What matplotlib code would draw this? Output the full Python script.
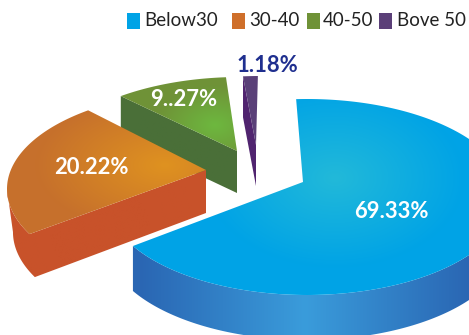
import numpy as np
import matplotlib
matplotlib.use("Agg")
import matplotlib.pyplot as plt
from matplotlib.colors import to_rgb
from matplotlib.patches import Polygon, Rectangle

# Data
categories = ["Below30", "30-40", "40-50", "Bove 50"]
shares = [69.33, 20.22, 9.27, 1.18]
share_labels = ["69.33%", "20.22%", "9..27%", "1.18%"]

# Look of each slice, drawn back to front
RX, RY = 201, 98
slices = [
    # index, ellipse centre, apex, start angle, stretch, depth, bottom scale, radial wall
    dict(i=3, c=(260, 174), apex=(256, 145), start=90.6, k=1.0, depth=41, s=1.0, wall=True),
    dict(i=2, c=(240, 175), apex=(237, 151), start=94.0, k=0.97, depth=42, s=1.0, wall=True),
    dict(i=1, c=(208, 189), apex=(206, 170), start=126.6, k=1.11, depth=43, s=0.97, wall=True),
    dict(i=0, c=(307, 197), apex=(303, 182), start=210.0, k=0.974, depth=45, s=1.0, wall=False),
]
legend_colors = ["#00a3e6", "#cf6f2a", "#6f9237", "#5b3f78"]
top_grad = {
    0: ("#22b9d9", "#00a3e6", (335, 178), 130, 90),
    1: ("#df9220", "#c6702c", (165, 165), 130, 70),
    2: ("#6db83f", "#6f9237", (215, 125), 60, 40),
    3: ("#5a4078", "#5a4078", (250, 100), 50, 50),
}
side_grad = {
    0: ("#3a9cdb", "#2a66b3", (305, 300), 165, 1e6),
    1: ("#c8522a", "#c8522a", (100, 230), 100, 100),
    2: ("#4a6f38", "#4a6f38", (180, 150), 100, 100),
    3: ("#50246f", "#50246f", (250, 130), 50, 50),
}
label_pos = [(391, 212), (91, 167), (184, 100), (267, 65)]
label_color = ["white", "white", "white", "#1f2f8f"]
legend_x = [127, 232, 307, 379]
legend_text_x = [144, 249, 323, 397]

W, H = 469, 335
plt.rcParams["font.family"] = ["Lato", "DejaVu Sans"]
fig = plt.figure(figsize=(W / 100, H / 100), dpi=100)
ax = fig.add_axes([0, 0, 1, 1])
ax.set_xlim(0, W)
ax.set_ylim(H, 0)
ax.axis("off")

yy, xx = np.mgrid[0:H, 0:W] + 0.5


def gradient_fill(pts, grad):
    inner, outer, centre, rx, ry = grad
    d = np.sqrt(((xx - centre[0]) / rx) ** 2 + ((yy - centre[1]) / ry) ** 2)
    d = np.clip(d, 0, 1)[..., None]
    img = np.array(to_rgb(inner)) * (1 - d) + np.array(to_rgb(outer)) * d
    im = ax.imshow(img, extent=(0, W, H, 0), aspect="auto", interpolation="bilinear")
    patch = Polygon(pts, closed=True, transform=ax.transData, fc="none", ec="none")
    ax.add_patch(patch)
    im.set_clip_path(patch)


for sl in slices:
    sweep = shares[sl["i"]] * 3.6 * sl["k"]
    t = np.radians(np.linspace(sl["start"], sl["start"] + sweep, 240))
    arc = np.column_stack([sl["c"][0] + RX * np.cos(t), sl["c"][1] - RY * np.sin(t)])
    apex = np.array(sl["apex"], dtype=float)

    # Lower rim, shrunk slightly towards the apex
    low = arc.copy()
    low[:, 0] = apex[0] + (low[:, 0] - apex[0]) * sl["s"]
    low[:, 1] += sl["depth"]
    apex_low = apex + [0, sl["depth"]]

    # Side: outer wall between the rim's silhouettes, plus the radial wall if seen
    lo = np.argmin(arc[:, 0])
    hi = np.argmax(arc[:, 0])
    if hi <= lo:
        hi = len(arc) - 1
    parts = [arc[lo:hi + 1]]
    if sl["wall"]:
        parts.append([apex, apex_low])
    parts.append(low[lo:hi + 1][::-1])
    gradient_fill(np.vstack(parts), side_grad[sl["i"]])
    gradient_fill(np.vstack([apex, arc]), top_grad[sl["i"]])

ax.set_xlim(0, W)
ax.set_ylim(H, 0)

# Percent labels
for txt, pos, col in zip(share_labels, label_pos, label_color):
    ax.text(pos[0], pos[1], txt, color=col, fontsize=15.8, fontweight="bold",
            ha="center", va="center", zorder=5)

# Legend
for name, col, x, tx in zip(categories, legend_colors, legend_x, legend_text_x):
    ax.add_patch(Rectangle((x, 13), 13, 16, fc=col, ec="none", zorder=5))
    ax.text(tx, 21, name, color="#222222", fontsize=13.5, ha="left", va="center", zorder=5)

fig.savefig("out.png", dpi=100)
